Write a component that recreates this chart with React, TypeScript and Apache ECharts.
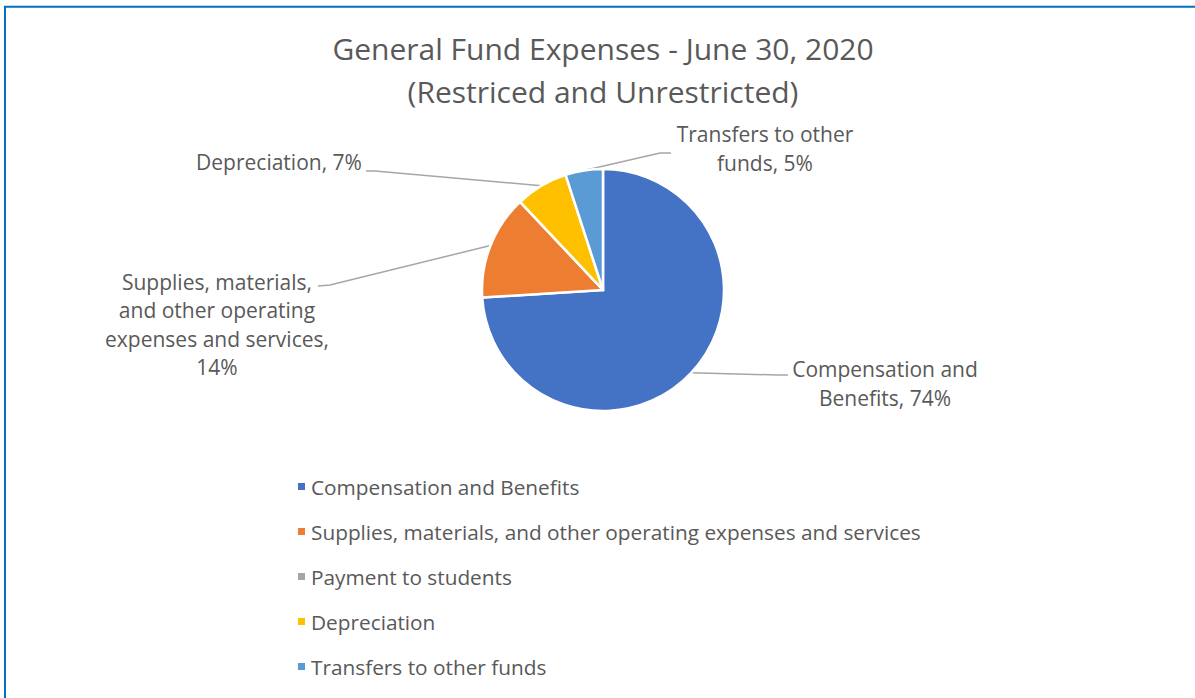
import React, { useEffect, useRef } from "react";
import * as echarts from "echarts";

const TITLE_LINES = ["General Fund Expenses - June 30, 2020", "(Restriced and Unrestricted)"];
const categories = [
  "Compensation and Benefits",
  "Supplies, materials, and other operating expenses and services",
  "Payment to students",
  "Depreciation",
  "Transfers to other funds",
];
const values = [74, 14, 0, 7, 5];
const colors = ["#4472C4", "#ED7D31", "#A5A5A5", "#FFC000", "#5B9BD5"];
const labelNames = [
  "Compensation and\nBenefits",
  "Supplies, materials,\nand other operating\nexpenses and services",
  "",
  "Depreciation",
  "Transfers to other\nfunds",
];
const labelSeparators = [", ", ",\n", "", ", ", ", "];

// label placement (layout, not data)
const labelPlacement: Record<number, { x: number; y: number; bend: [number, number]; end: [number, number] }> = {
  0: { x: 885, y: 383.5, bend: [778, 375], end: [788, 375] },
  1: { x: 217, y: 324.5, bend: [330, 285], end: [318, 286] },
  3: { x: 279, y: 162, bend: [375, 171], end: [366, 171] },
  4: { x: 765, y: 148.5, bend: [660, 153], end: [671, 153] },
};

const FONT = "'Open Sans', 'Noto Sans', sans-serif";
const TEXT_COLOR = "#595959";

export default function App() {
  const ref = useRef<HTMLDivElement>(null);
  useEffect(() => {
    if (!ref.current) return;
    const chart = echarts.init(ref.current, undefined, { renderer: "svg" });
    chart.setOption({
      animation: false,
      backgroundColor: "#ffffff",
      title: {
        text: TITLE_LINES.join("\n"),
        left: "603",
        textAlign: "center",
        top: 27,
        padding: 0,
        textStyle: {
          fontFamily: FONT,
          fontSize: 30,
          fontWeight: "normal",
          color: TEXT_COLOR,
          lineHeight: 43,
        },
      },
      graphic: [
        {
          type: "rect",
          shape: { x: 5, y: 6.8, width: 1400, height: 900 },
          style: { fill: "none", stroke: "#0070C0", lineWidth: 2 },
          silent: true,
          z: 100,
        },
      ],
      legend: {
        orient: "vertical",
        left: 296,
        top: 476,
        padding: 0,
        itemWidth: 9,
        itemHeight: 9,
        itemGap: 24,
        icon: "rect",
        data: categories,
        textStyle: {
          fontFamily: FONT,
          fontSize: 20.8,
          color: TEXT_COLOR,
          lineHeight: 20,
        },
      },
      series: [
        {
          type: "pie",
          center: [603, 290],
          radius: 121,
          startAngle: 90,
          clockwise: true,
          avoidLabelOverlap: false,
          itemStyle: { borderColor: "#ffffff", borderWidth: 2.5 },
          label: {
            show: true,
            position: "outside",
            fontFamily: FONT,
            fontSize: 21,
            lineHeight: 28.5,
            color: TEXT_COLOR,
            formatter: (p: any) =>
              labelNames[p.dataIndex] + labelSeparators[p.dataIndex] + Math.round(p.percent) + "%",
          },
          labelLine: {
            show: true,
            length: 10,
            length2: 20,
            lineStyle: { color: "#A6A6A6", width: 1.5 },
          },
          labelLayout: (params: any) => {
            const pl = labelPlacement[params.dataIndex];
            if (!pl || !params.labelLinePoints) return {};
            const anchor = params.labelLinePoints[0];
            return {
              x: pl.x,
              y: pl.y,
              align: "center",
              verticalAlign: "middle",
              labelLinePoints: [anchor, pl.bend, pl.end],
            };
          },
          data: categories.map((name, i) => ({
            name,
            value: values[i],
            itemStyle: { color: colors[i] },
            label: values[i] === 0 ? { show: false } : undefined,
            labelLine: values[i] === 0 ? { show: false } : undefined,
          })),
        },
      ],
    });
    return () => chart.dispose();
  }, []);
  return (
    <div
      ref={ref}
      style={{ position: "fixed", left: 0, top: 0, width: 1195, height: 698 }}
    />
  );
}
